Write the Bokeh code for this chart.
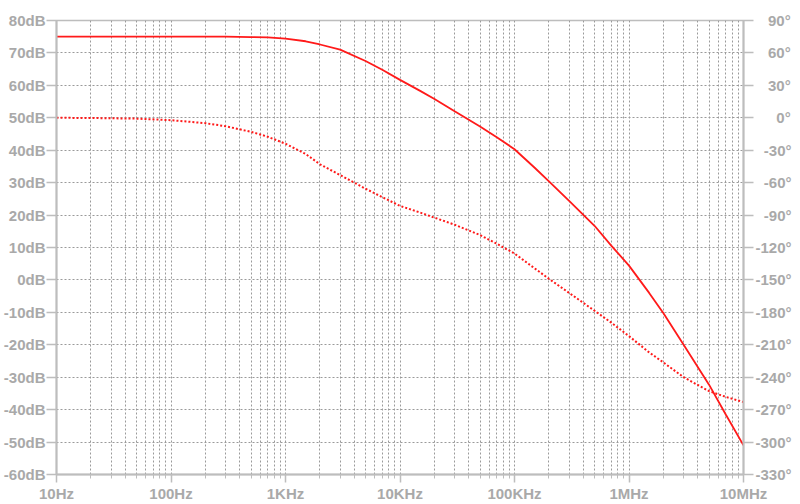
from bokeh.plotting import figure
from bokeh.models import Range1d, LinearAxis, FixedTicker
from bokeh.embed import file_html
from bokeh.resources import INLINE

# ---- data ----
freq_hz = [10, 20, 50, 100, 200, 300, 500, 700, 1e3, 1.5e3, 2e3, 3e3, 5e3, 7e3,
           1e4, 1.5e4, 2e4, 3e4, 5e4, 7e4, 1e5, 1.5e5, 2e5, 3e5, 5e5, 7e5,
           1e6, 1.5e6, 2e6, 3e6, 5e6, 7e6, 1e7]
gain_db = [75.0, 75.0, 75.0, 75.0, 75.0, 75.0, 74.9, 74.8, 74.4, 73.6, 72.6, 71.0, 67.5, 64.8,
           61.7, 58.3, 55.8, 52.0, 47.3, 44.0, 40.3, 34.6, 30.4, 24.4, 16.7, 10.6,
           4.4, -4.0, -10.3, -20.0, -32.3, -41.5, -51.0]
phase_deg = [0.0, -0.2, -0.8, -2.2, -5.0, -7.8, -13.0, -17.5, -24.0, -33.5, -43.0, -53.0, -65.6, -73.4,
             -81.5, -87.7, -92.4, -98.9, -108.5, -116.5, -125.6, -139.3, -149.0, -162.0, -178.5, -189.5,
             -202.0, -217.0, -226.4, -240.0, -252.9, -258.2, -263.0]

x_ticks = [10, 100, 1000, 10000, 100000, 1000000, 10000000]
x_labels = ["10Hz", "100Hz", "1KHz", "10KHz", "100KHz", "1MHz", "10MHz"]
db_ticks = [-60, -50, -40, -30, -20, -10, 0, 10, 20, 30, 40, 50, 60, 70, 80]
db_labels = ["-60dB", "-50dB", "-40dB", "-30dB", "-20dB", "-10dB", "0dB", "10dB",
             "20dB", "30dB", "40dB", "50dB", "60dB", "70dB", "80dB"]
deg_ticks = [-330, -300, -270, -240, -210, -180, -150, -120, -90, -60, -30, 0, 30, 60, 90]
deg_labels = ["-330°", "-300°", "-270°", "-240°", "-210°", "-180°", "-150°", "-120°",
              "-90°", "-60°", "-30°", "0°", "30°", "60°", "90°"]

# ---- styling ----
LABEL_COLOR = "#a9a9a9"
AXIS_COLOR = "#bdbdbd"
GRID_COLOR = "#9a9a9a"
FONT = "Liberation Sans"
FS = "15px"

W, H = 800, 504
ML, MR, MT, MB = 53, 57, 20, 30


# right-align the right-axis labels by padding with figure / punctuation spaces
_cw = {"-": 333, "°": 400}
def _width(s):
    return sum(_cw.get(c, 556) for c in s)
_maxw = max(_width(s) for s in deg_labels)
def _pad(s):
    d = _maxw - _width(s)
    nf = d // 556
    npunct = round((d - nf * 556) / 278)
    return "\u2007" * nf + "\u2008" * npunct + s


p = figure(width=W, height=H, x_axis_type="log", x_range=Range1d(10, 1e7),
           y_range=Range1d(-60, 80), toolbar_location=None, output_backend="svg",
           min_border_left=ML, min_border_right=MR, min_border_top=MT, min_border_bottom=MB)
p.background_fill_color = "white"
p.border_fill_color = "white"
p.outline_line_color = AXIS_COLOR
p.outline_line_width = 1.5

minor = [m * d for d in x_ticks[:-1] for m in range(2, 10)]
p.xaxis.ticker = FixedTicker(ticks=x_ticks, minor_ticks=minor)
p.xaxis.major_label_overrides = {t: l for t, l in zip(x_ticks, x_labels)}
p.yaxis.ticker = FixedTicker(ticks=db_ticks)
p.yaxis.major_label_overrides = {t: l for t, l in zip(db_ticks, db_labels)}

p.extra_y_ranges = {"deg": Range1d(-330, 90)}
rax = LinearAxis(y_range_name="deg", ticker=FixedTicker(ticks=deg_ticks))
rax.major_label_overrides = {t: _pad(l) for t, l in zip(deg_ticks, deg_labels)}
p.add_layout(rax, "right")

for ax in (p.xaxis[0], p.yaxis[0], rax):
    ax.axis_line_color = AXIS_COLOR
    ax.axis_line_width = 2
    ax.major_tick_line_color = AXIS_COLOR
    ax.major_tick_line_width = 1.5
    ax.minor_tick_line_color = AXIS_COLOR
    ax.major_tick_in = 0
    ax.minor_tick_in = 0
    ax.major_tick_out = 10
    ax.major_label_text_color = LABEL_COLOR
    ax.major_label_text_font = FONT
    ax.major_label_text_font_style = "bold"
    ax.major_label_text_font_size = FS
    ax.major_label_standoff = 1

p.xaxis.major_tick_out = 8
p.xaxis.minor_tick_out = 4
p.xaxis.major_label_standoff = 2
p.yaxis.minor_tick_line_color = None
rax.minor_tick_line_color = None
rax.major_label_standoff = 2

p.xgrid.grid_line_color = GRID_COLOR
p.xgrid.grid_line_dash = "2 2"
p.xgrid.minor_grid_line_color = GRID_COLOR
p.xgrid.minor_grid_line_dash = "2 2"
p.ygrid.grid_line_color = GRID_COLOR
p.ygrid.grid_line_dash = "2 2"

p.line(freq_hz, gain_db, line_color="#ff1a1a", line_width=1.8)
p.line(freq_hz, phase_deg, y_range_name="deg", line_color="#ff1a1a", line_width=2,
       line_dash="2 2")

open("out.html", "w").write(file_html(p, INLINE))
